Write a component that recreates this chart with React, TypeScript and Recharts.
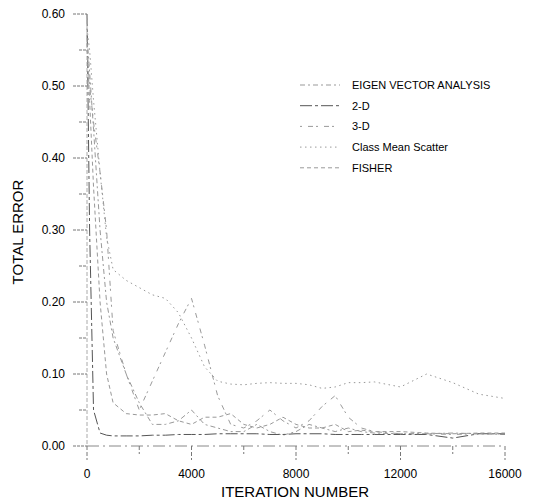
import React from 'react';
import { LineChart, Line, XAxis, YAxis, Legend } from 'recharts';

// iteration numbers shared by every series
const iterations = [0, 100, 250, 500, 750, 1000, 1500, 2000, 2500, 3000, 3500, 4000, 4500, 5000, 5500, 6000, 6500, 7000, 7500, 8000, 8500, 9000, 9500, 10000, 10500, 11000, 12000, 13000, 14000, 15000, 16000];

const eigenVector = [0.57, 0.52, 0.44, 0.3, 0.2, 0.15, 0.1, 0.06, 0.03, 0.03, 0.035, 0.05, 0.03, 0.025, 0.02, 0.02, 0.03, 0.02, 0.015, 0.02, 0.03, 0.025, 0.02, 0.025, 0.02, 0.018, 0.017, 0.017, 0.018, 0.017, 0.016];
const twoD = [0.6, 0.3, 0.05, 0.018, 0.015, 0.014, 0.014, 0.014, 0.015, 0.015, 0.016, 0.016, 0.016, 0.017, 0.017, 0.017, 0.017, 0.016, 0.016, 0.017, 0.017, 0.017, 0.016, 0.016, 0.016, 0.016, 0.016, 0.016, 0.011, 0.017, 0.017];
const threeD = [0.55, 0.5, 0.45, 0.38, 0.3, 0.16, 0.1, 0.05, 0.09, 0.13, 0.17, 0.205, 0.14, 0.07, 0.03, 0.025, 0.035, 0.05, 0.035, 0.025, 0.035, 0.055, 0.07, 0.04, 0.025, 0.02, 0.017, 0.017, 0.016, 0.017, 0.017];
const classMeanScatter = [0.58, 0.55, 0.48, 0.38, 0.29, 0.245, 0.23, 0.22, 0.21, 0.205, 0.185, 0.15, 0.11, 0.09, 0.086, 0.085, 0.087, 0.088, 0.087, 0.087, 0.085, 0.08, 0.082, 0.088, 0.088, 0.089, 0.082, 0.1, 0.088, 0.072, 0.066];
const fisher = [0.56, 0.48, 0.36, 0.2, 0.1, 0.06, 0.045, 0.043, 0.043, 0.045, 0.035, 0.03, 0.04, 0.04, 0.045, 0.03, 0.025, 0.03, 0.04, 0.03, 0.025, 0.025, 0.03, 0.02, 0.022, 0.02, 0.02, 0.018, 0.017, 0.018, 0.018];

const xTicks = [0, 2000, 4000, 6000, 8000, 10000, 12000, 14000, 16000];
const yTicks = [0, 0.05, 0.1, 0.15, 0.2, 0.25, 0.3, 0.35, 0.4, 0.45, 0.5, 0.55, 0.6];

const series = [
  { key: 'eigen', name: 'EIGEN VECTOR ANALYSIS', stroke: '#999', dash: '5 3 2 3' },
  { key: 'twoD', name: '2-D', stroke: '#555', dash: '12 3 3 3' },
  { key: 'threeD', name: '3-D', stroke: '#9a9a9a', dash: '2 6 5 3' },
  { key: 'classMean', name: 'Class Mean Scatter', stroke: '#999', dash: '1.5 3.5' },
  { key: 'fisher', name: 'FISHER', stroke: '#999', dash: '4 3' },
];

const data = iterations.map((it, i) => ({
  iteration: it,
  eigen: eigenVector[i],
  twoD: twoD[i],
  threeD: threeD[i],
  classMean: classMeanScatter[i],
  fisher: fisher[i],
}));

const FONT = 'Arial, "Liberation Sans", sans-serif';

const YTick = (props: any) => {
  const { x, y, payload } = props;
  const v = payload.value;
  const major = Math.abs(Math.round(v * 10) - v * 10) < 1e-6;
  return (
    <g>
      <line x1={x + 22 - (major ? 14 : 8)} x2={x + 22} y1={y} y2={y} stroke="#777" strokeDasharray="3 1" />
      {major && (
        <text x={x} y={y} dy="0.355em" textAnchor="end" fontSize={12} fontFamily={FONT} fill="#000">
          {v.toFixed(2)}
        </text>
      )}
    </g>
  );
};

const XTick = (props: any) => {
  const { x, y, payload } = props;
  const v = payload.value;
  const major = v % 4000 === 0;
  const top = y - 9 - 14;
  return (
    <g>
      <line x1={x} x2={x} y1={top} y2={top + (major ? 14 : 8)} stroke="#777" strokeDasharray="4 2" />
      {major && (
        <text x={x} y={y} dy="0.71em" textAnchor="middle" fontSize={12} fontFamily={FONT} fill="#000">
          {v}
        </text>
      )}
    </g>
  );
};

const renderLegend = () => (
  <svg width={230} height={110}>
    {series.map((s, i) => {
      const cy = 11 + i * 20.7;
      return (
        <g key={s.key}>
          <line x1={5} x2={45} y1={cy} y2={cy} stroke={s.stroke} strokeDasharray={s.dash} />
          <text x={57} y={cy} dy="0.355em" fontSize={11} fontFamily={FONT} fill="#000">
            {s.name}
          </text>
        </g>
      );
    })}
  </svg>
);

export default function App() {
  return (
    <div style={{ position: 'absolute', left: 0, top: 0, background: '#fff' }}>
      <LineChart width={533} height={501} data={data} margin={{ top: 14, right: 28, left: 0, bottom: 25 }}>
        <XAxis
          dataKey="iteration"
          type="number"
          domain={[0, 16000]}
          ticks={xTicks}
          interval={0}
          tickLine={false}
          tickSize={14}
          tickMargin={9}
          tick={<XTick />}
          height={30}
          axisLine={{ stroke: '#888', strokeDasharray: '12 4 2 4' }}
          label={{
            content: () => (
              <text x={295} y={497} textAnchor="middle" fontSize={15} fontFamily={FONT} fill="#000">
                ITERATION NUMBER
              </text>
            ),
          }}
        />
        <YAxis
          type="number"
          domain={[0, 0.6]}
          ticks={yTicks}
          interval={0}
          width={87}
          tickLine={false}
          tickSize={14}
          tickMargin={8}
          tick={<YTick />}
          axisLine={{ stroke: '#aaa', strokeDasharray: '4 2' }}
          label={{
            content: () => (
              <text
                x={17}
                y={232}
                transform="rotate(-90, 17, 232)"
                textAnchor="middle"
                dominantBaseline="central"
                fontSize={15}
                fontFamily={FONT}
                fill="#000"
              >
                TOTAL ERROR
              </text>
            ),
          }}
        />
        <Legend
          layout="horizontal"
          verticalAlign="middle"
          align="center"
          content={renderLegend}
          wrapperStyle={{ left: 295, top: 74, width: 230 }}
        />
        {series.map((s) => (
          <Line
            key={s.key}
            type="linear"
            dataKey={s.key}
            name={s.name}
            stroke={s.stroke}
            strokeWidth={1}
            strokeDasharray={s.dash}
            dot={false}
            isAnimationActive={false}
          />
        ))}
      </LineChart>
    </div>
  );
}
